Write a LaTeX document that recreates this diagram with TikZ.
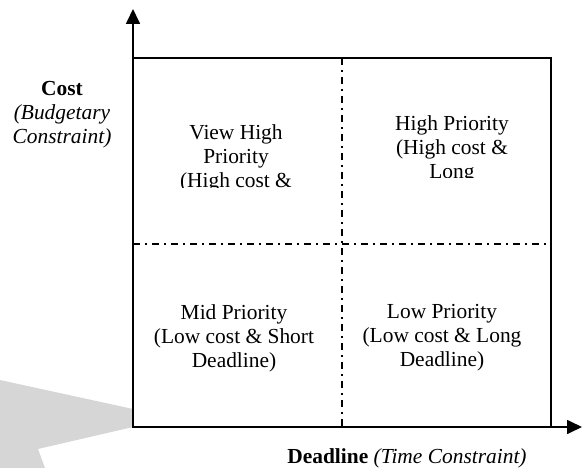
\documentclass[tikz,border=0pt]{standalone}
\usepackage{fontspec}
\setmainfont{Liberation Serif}
\usetikzlibrary{arrows.meta}
\definecolor{bggray}{HTML}{D6D6D6}
\begin{document}
\begin{tikzpicture}[x=1bp,y=-1bp,
  axis/.style={line width=1.7bp,-{Triangle[length=15bp,width=14bp]}},
  frame/.style={line width=1.2bp},
  divider/.style={line width=1.2bp,dash pattern=on 7bp off 5bp on 2bp off 5bp},
  qtext/.style={font=\fontsize{21.5}{24}\selectfont,align=center,inner sep=0pt},
  ltext/.style={font=\fontsize{21.5}{24}\selectfont,align=center,inner sep=0pt}]
\useasboundingbox (0,0) rectangle (582,468);
% gray background shape
\fill[bggray] (0,380) -- (133,409) -- (133,427) -- (38,449) -- (45,468) -- (0,468) -- cycle;
% coordinates
\coordinate (O) at (133,427);
\coordinate (ytip) at (133,9);
\coordinate (xtip) at (582,427);
\coordinate (TL) at (133,58);
\coordinate (BR) at (551,427);
\coordinate (vtop) at (342,58);
\coordinate (vbot) at (342,427);
\coordinate (hl) at (133,244);
\coordinate (hr) at (551,244);
% frame and dividers
\draw[frame] (TL) rectangle (BR);
\draw[divider] (vtop) -- (vbot);
\draw[divider] (hl) -- (hr);
% axes
\draw[axis] (O) -- (ytip);
\draw[axis] (O) -- (xtip);
% quadrant texts
\begin{scope}
\clip (140,60) rectangle (335,187.5);
\node[qtext] (q1) at (236,158.5) {View High\\Priority\\(High cost \&};
\end{scope}
\begin{scope}
\clip (349,60) rectangle (548,178);
\node[qtext] (q2) at (452,149) {High Priority\\(High cost \&\\Long};
\end{scope}
\node[qtext] (q3) at (234,338) {Mid Priority\\(Low cost \& Short\\Deadline)};
\node[qtext] (q4) at (442,338) {Low Priority\\(Low cost \& Long\\Deadline)};
% axis labels
\node[ltext] (ylab) at (62,115) {\textbf{Cost}\\\textit{(Budgetary}\\\textit{Constraint)}};
\node[ltext] (xlab) at (407,458) {\textbf{Deadline} \textit{(Time Constraint)}};
\end{tikzpicture}
\end{document}
